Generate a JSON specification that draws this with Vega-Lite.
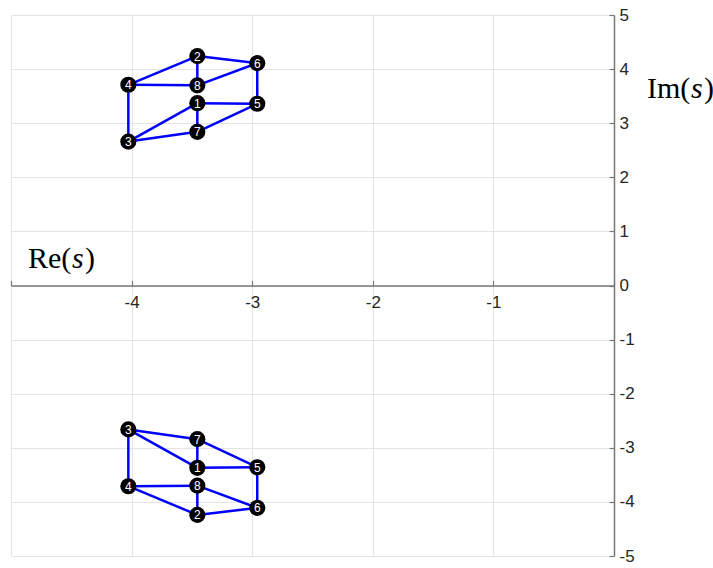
{
  "$schema": "https://vega.github.io/schema/vega-lite/v6.json",
  "width": 603,
  "height": 541,
  "autosize": {"type": "none"},
  "padding": {"left": 11, "top": 15, "right": 99, "bottom": 12},
  "background": "white",
  "config": {"view": {"stroke": null}},
  "datasets": {
    "nodes": [
      {"id": "1", "re": -3.455, "im": 3.37},
      {"id": "2", "re": -3.455, "im": 4.24},
      {"id": "3", "re": -4.027, "im": 2.66},
      {"id": "4", "re": -4.027, "im": 3.71},
      {"id": "5", "re": -2.958, "im": 3.36},
      {"id": "6", "re": -2.958, "im": 4.11},
      {"id": "7", "re": -3.455, "im": 2.84},
      {"id": "8", "re": -3.455, "im": 3.70},
      {"id": "1", "re": -3.455, "im": -3.37},
      {"id": "2", "re": -3.455, "im": -4.24},
      {"id": "3", "re": -4.027, "im": -2.66},
      {"id": "4", "re": -4.027, "im": -3.71},
      {"id": "5", "re": -2.958, "im": -3.36},
      {"id": "6", "re": -2.958, "im": -4.11},
      {"id": "7", "re": -3.455, "im": -2.84},
      {"id": "8", "re": -3.455, "im": -3.70}
    ],
    "edges": [
      {"re": -3.455, "im": 3.37, "re2": -4.027, "im2": 2.66},
      {"re": -3.455, "im": 3.37, "re2": -2.958, "im2": 3.36},
      {"re": -3.455, "im": 3.37, "re2": -3.455, "im2": 2.84},
      {"re": -3.455, "im": 4.24, "re2": -4.027, "im2": 3.71},
      {"re": -3.455, "im": 4.24, "re2": -2.958, "im2": 4.11},
      {"re": -3.455, "im": 4.24, "re2": -3.455, "im2": 3.70},
      {"re": -4.027, "im": 2.66, "re2": -4.027, "im2": 3.71},
      {"re": -4.027, "im": 2.66, "re2": -3.455, "im2": 2.84},
      {"re": -4.027, "im": 3.71, "re2": -3.455, "im2": 3.70},
      {"re": -2.958, "im": 3.36, "re2": -2.958, "im2": 4.11},
      {"re": -2.958, "im": 3.36, "re2": -3.455, "im2": 2.84},
      {"re": -2.958, "im": 4.11, "re2": -3.455, "im2": 3.70},
      {"re": -3.455, "im": -3.37, "re2": -4.027, "im2": -2.66},
      {"re": -3.455, "im": -3.37, "re2": -2.958, "im2": -3.36},
      {"re": -3.455, "im": -3.37, "re2": -3.455, "im2": -2.84},
      {"re": -3.455, "im": -4.24, "re2": -4.027, "im2": -3.71},
      {"re": -3.455, "im": -4.24, "re2": -2.958, "im2": -4.11},
      {"re": -3.455, "im": -4.24, "re2": -3.455, "im2": -3.70},
      {"re": -4.027, "im": -2.66, "re2": -4.027, "im2": -3.71},
      {"re": -4.027, "im": -2.66, "re2": -3.455, "im2": -2.84},
      {"re": -4.027, "im": -3.71, "re2": -3.455, "im2": -3.70},
      {"re": -2.958, "im": -3.36, "re2": -2.958, "im2": -4.11},
      {"re": -2.958, "im": -3.36, "re2": -3.455, "im2": -2.84},
      {"re": -2.958, "im": -4.11, "re2": -3.455, "im2": -3.70}
    ],
    "titles": [
      {"part": "Im(", "re": 0.274, "im": 3.47, "k": 0},
      {"part": "s", "re": 0.274, "im": 3.47, "k": 1},
      {"part": ")", "re": 0.274, "im": 3.47, "k": 2},
      {"part": "Re(", "re": -4.86, "im": 0.33, "k": 0},
      {"part": "s", "re": -4.86, "im": 0.33, "k": 1},
      {"part": ")", "re": -4.86, "im": 0.33, "k": 2}
    ]
  },
  "layer": [
    {
      "data": {"name": "edges"},
      "mark": {"type": "rule", "color": "#0000ff", "strokeWidth": 2.5},
      "encoding": {
        "x": {
          "field": "re", "type": "quantitative",
          "scale": {"domain": [-5, 0], "nice": false, "zero": false},
          "axis": {
            "orient": "bottom", "offset": -270.5, "title": null,
            "values": [-5, -4, -3, -2, -1, 0],
            "labelExpr": "datum.value == -5 || datum.value == 0 ? '' : '' + datum.value",
            "grid": true, "gridColor": "#e4e4e4", "gridWidth": 1,
            "domainColor": "#777777", "domainWidth": 1.5,
            "tickColor": "#777777", "tickSize": -5, "tickWidth": 1.2,
            "labelPadding": 14, "labelFont": "Liberation Sans", "labelFontSize": 17,
            "labelColor": "#262626"
          }
        },
        "y": {
          "field": "im", "type": "quantitative",
          "scale": {"domain": [-5, 5], "nice": false, "zero": false},
          "axis": {
            "orient": "right", "title": null,
            "values": [-5, -4, -3, -2, -1, 0, 1, 2, 3, 4, 5],
            "labelExpr": "'' + datum.value",
            "grid": true, "gridColor": "#e4e4e4", "gridWidth": 1,
            "domainColor": "#777777", "domainWidth": 1.5,
            "tickColor": "#777777", "tickSize": -5, "tickWidth": 1.2,
            "labelPadding": 10, "labelFont": "Liberation Sans", "labelFontSize": 17,
            "labelColor": "#262626", "labelBaseline": "middle"
          }
        },
        "x2": {"field": "re2"},
        "y2": {"field": "im2"}
      }
    },
    {
      "data": {"name": "nodes"},
      "mark": {"type": "point", "shape": "circle", "filled": true, "color": "black", "size": 260, "opacity": 1},
      "encoding": {
        "x": {"field": "re", "type": "quantitative"},
        "y": {"field": "im", "type": "quantitative"}
      }
    },
    {
      "data": {"name": "nodes"},
      "mark": {"type": "text", "color": "white", "font": "Liberation Sans", "fontSize": 12, "align": "center", "baseline": "middle", "dy": 0.5},
      "encoding": {
        "x": {"field": "re", "type": "quantitative"},
        "y": {"field": "im", "type": "quantitative"},
        "text": {"field": "id"}
      }
    },
    {
      "data": {"name": "titles"},
      "transform": [{"filter": "datum.k == 0"}],
      "mark": {"type": "text", "font": "Liberation Serif", "fontSize": 30, "align": "left", "baseline": "alphabetic", "color": "black"},
      "encoding": {"x": {"field": "re", "type": "quantitative"}, "y": {"field": "im", "type": "quantitative"}, "text": {"field": "part"}}
    },
    {
      "data": {"name": "titles"},
      "transform": [{"filter": "datum.k == 1"}],
      "mark": {"type": "text", "font": "Liberation Serif", "fontStyle": "italic", "fontSize": 30, "align": "left", "baseline": "alphabetic", "color": "black", "dx": 44},
      "encoding": {"x": {"field": "re", "type": "quantitative"}, "y": {"field": "im", "type": "quantitative"}, "text": {"field": "part"}}
    },
    {
      "data": {"name": "titles"},
      "transform": [{"filter": "datum.k == 2"}],
      "mark": {"type": "text", "font": "Liberation Serif", "fontSize": 30, "align": "left", "baseline": "alphabetic", "color": "black", "dx": 57},
      "encoding": {"x": {"field": "re", "type": "quantitative"}, "y": {"field": "im", "type": "quantitative"}, "text": {"field": "part"}}
    }
  ]
}
